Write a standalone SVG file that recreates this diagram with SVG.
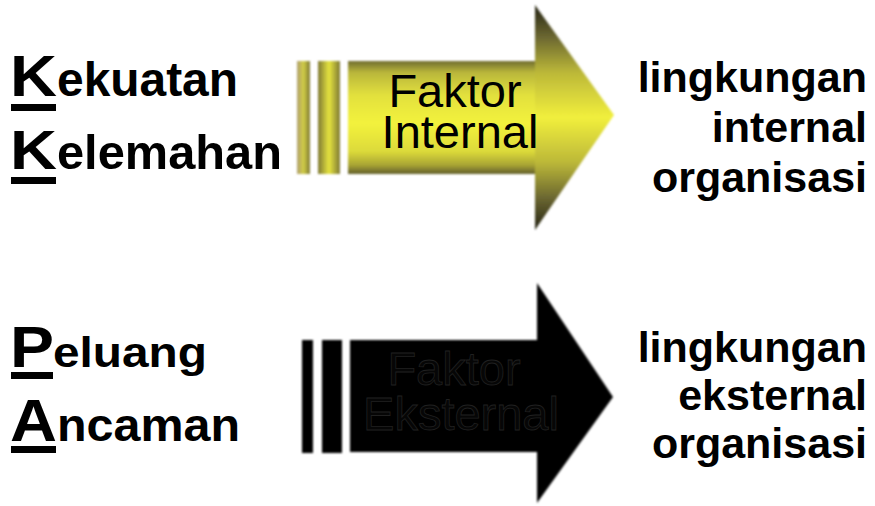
<svg xmlns="http://www.w3.org/2000/svg" width="875" height="506" viewBox="0 0 875 506">
  <style>
    .lbl { font-family: "Liberation Sans", Arial, sans-serif; font-weight: bold; fill: #000; }
    .rt { font-family: "Liberation Sans", Arial, sans-serif; font-weight: bold; font-size: 43px; fill: #000; text-anchor: end; }
    .at { font-family: "Liberation Sans", Arial, sans-serif; font-size: 47px; text-anchor: middle; }
  </style>
  <defs>
    <linearGradient id="ybody" gradientUnits="userSpaceOnUse" x1="0" y1="61" x2="0" y2="174">
      <stop offset="0" stop-color="#6f6c30"/>
      <stop offset="0.1" stop-color="#b9b63a"/>
      <stop offset="0.3" stop-color="#e2e03e"/>
      <stop offset="0.55" stop-color="#f3f23c"/>
      <stop offset="0.8" stop-color="#dcda3a"/>
      <stop offset="0.92" stop-color="#a9a534"/>
      <stop offset="1" stop-color="#625e2c"/>
    </linearGradient>
    <linearGradient id="yhead" gradientUnits="userSpaceOnUse" x1="0" y1="5" x2="0" y2="230">
      <stop offset="0" stop-color="#262416"/>
      <stop offset="0.14" stop-color="#6a6630"/>
      <stop offset="0.3" stop-color="#bcb839"/>
      <stop offset="0.5" stop-color="#f1ef3c"/>
      <stop offset="0.7" stop-color="#bcb839"/>
      <stop offset="0.86" stop-color="#6a6630"/>
      <stop offset="1" stop-color="#262416"/>
    </linearGradient>
    <linearGradient id="ystripe" x1="0" y1="0" x2="1" y2="0">
      <stop offset="0" stop-color="#7e7934"/>
      <stop offset="0.5" stop-color="#e6e43e"/>
      <stop offset="1" stop-color="#7e7934"/>
    </linearGradient>
    <linearGradient id="ystripe1" x1="0" y1="0" x2="1" y2="0">
      <stop offset="0" stop-color="#b0a070"/>
      <stop offset="0.5" stop-color="#d0cc44"/>
      <stop offset="1" stop-color="#7e7934"/>
    </linearGradient>
    <filter id="soft" x="-5%" y="-5%" width="110%" height="110%">
      <feGaussianBlur stdDeviation="0.8"/>
    </filter>
  </defs>

  <g id="node-kekuatan">
    <text class="lbl" x="10" y="96" font-size="57" textLength="47" lengthAdjust="spacingAndGlyphs">K</text>
    <text class="lbl" x="57" y="96" font-size="48" textLength="181" lengthAdjust="spacingAndGlyphs">ekuatan</text>
    <rect x="11" y="104" width="45" height="7"/>
  </g>
  <g id="node-kelemahan">
    <text class="lbl" x="10" y="169" font-size="56" textLength="47" lengthAdjust="spacingAndGlyphs">K</text>
    <text class="lbl" x="57" y="169" font-size="48" textLength="225" lengthAdjust="spacingAndGlyphs">elemahan</text>
    <rect x="11" y="177" width="45" height="7"/>
  </g>
  <g id="node-peluang">
    <text class="lbl" x="10" y="367" font-size="58" textLength="44" lengthAdjust="spacingAndGlyphs">P</text>
    <text class="lbl" x="53" y="367" font-size="43" textLength="154" lengthAdjust="spacingAndGlyphs">eluang</text>
    <rect x="11" y="372" width="42" height="7"/>
  </g>
  <g id="node-ancaman">
    <text class="lbl" x="10" y="441" font-size="60" textLength="47" lengthAdjust="spacingAndGlyphs">A</text>
    <text class="lbl" x="57" y="441" font-size="47" textLength="183" lengthAdjust="spacingAndGlyphs">ncaman</text>
    <rect x="11" y="446" width="45" height="7"/>
  </g>

  <g id="node-faktor-internal">
    <g filter="url(#soft)">
      <rect x="297" y="61" width="13" height="113" fill="url(#ystripe1)"/>
      <rect x="318" y="61" width="22" height="113" fill="url(#ystripe)"/>
      <rect x="348" y="61" width="189" height="113" fill="url(#ybody)"/>
      <polygon points="535,5 614,115 535,230" fill="url(#yhead)"/>
    </g>
    <text class="at" fill="#000"><tspan x="455" y="107">Faktor</tspan><tspan x="460" y="148">Internal</tspan></text>
  </g>

  <g id="node-faktor-eksternal">
    <g filter="url(#soft)" fill="#000">
      <rect x="302" y="340" width="11" height="113"/>
      <rect x="322" y="340" width="20" height="113"/>
      <rect x="350" y="340" width="190" height="112"/>
      <polygon points="537,283 613,397 537,503"/>
    </g>
    <text class="at" fill="#060606" stroke="#202020" stroke-width="0.8"><tspan x="454" y="385">Faktor</tspan><tspan x="461" y="430">Eksternal</tspan></text>
  </g>

  <g id="node-lingkungan-internal">
    <text class="rt" x="867" y="92">lingkungan</text>
    <text class="rt" x="867" y="142">internal</text>
    <text class="rt" x="867" y="192">organisasi</text>
  </g>
  <g id="node-lingkungan-eksternal">
    <text class="rt" x="867" y="362">lingkungan</text>
    <text class="rt" x="867" y="410">eksternal</text>
    <text class="rt" x="867" y="458">organisasi</text>
  </g>

  <g id="connectors"></g>
</svg>
